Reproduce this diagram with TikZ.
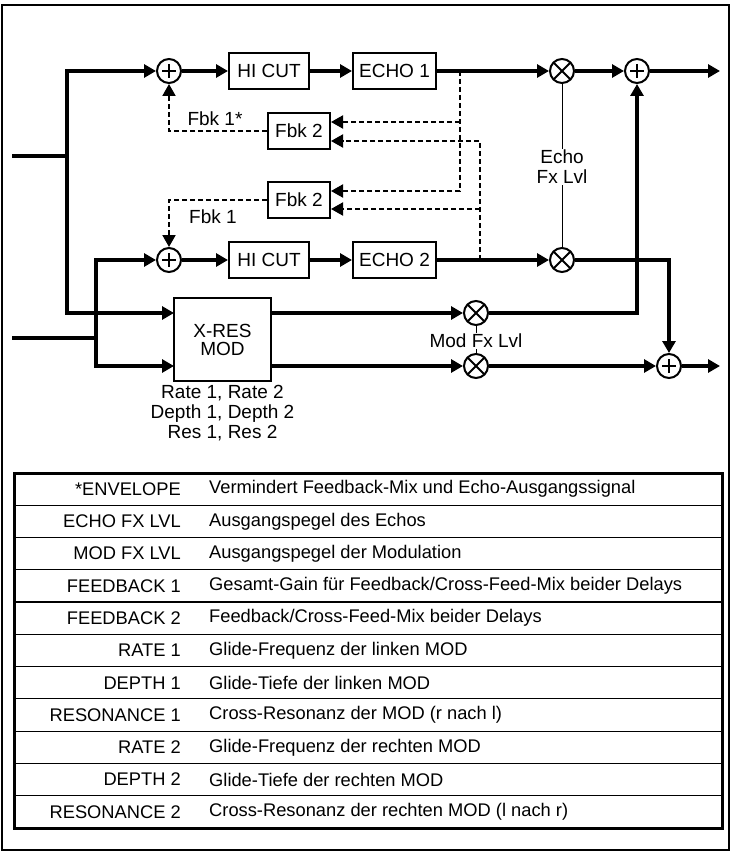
\documentclass[tikz,border=0pt]{standalone}
\usepackage{fontspec}
\setmainfont{Liberation Sans}
\usetikzlibrary{arrows.meta,positioning}
\tikzset{
	sig/.style={line width=4pt, -{Triangle[length=12pt, width=13pt]}},
	wire/.style={line width=4pt},
	fb/.style={line width=2pt, dash pattern=on 5pt off 3pt, -{Triangle[length=12pt, width=13pt]}},
	blk/.style={draw, line width=2pt, minimum height=36pt, inner sep=0pt, align=center, font=\fontsize{19}{20}\selectfont},
	sum/.style={circle, draw, line width=2pt, minimum size=24pt, inner sep=0pt,
		path picture={\draw[line width=2pt] ([yshift=7pt]path picture bounding box.center) -- ([yshift=-7pt]path picture bounding box.center)
			([xshift=-7pt]path picture bounding box.center) -- ([xshift=7pt]path picture bounding box.center);}},
	mul/.style={circle, draw, line width=2pt, minimum size=24pt, inner sep=0pt,
		path picture={\draw[line width=2pt] (path picture bounding box.north east) -- (path picture bounding box.south west)
			(path picture bounding box.north west) -- (path picture bounding box.south east);}},
	lbl/.style={font=\fontsize{19}{20}\selectfont, align=center, inner sep=1pt},
	cell/.style={font=\fontsize{18.3}{20}\selectfont, inner sep=1pt}
}
\begin{document}
\begin{tikzpicture}[x=1pt, y=-1pt]
	\useasboundingbox (0,0) rectangle (731,853);
	\draw[line width=2pt] (1.5,5) rectangle (729,850);

	% echo 1
	\node[sum] (sumA) at (169,71) {};
	\node[blk, minimum width=80pt] (hcA) at (269,71) {HI CUT};
	\node[blk, minimum width=83pt] (echoA) at (394.5,71) {ECHO 1};
	\node[mul] (mulA) at (562,71) {};
	\node[sum] (sumB) at (637,71) {};
	\coordinate (outA) at (720,71);

	% feedback
	\node[blk, minimum width=62pt] (fbU) at (299,131) {Fbk 2};
	\node[blk, minimum width=62pt] (fbL) at (299,200) {Fbk 2};

	% echo 2
	\node[sum] (sumC) at (169,260) {};
	\node[blk, minimum width=80pt] (hcB) at (269,260) {HI CUT};
	\node[blk, minimum width=83pt] (echoB) at (394.5,260) {ECHO 2};
	\node[mul] (mulB) at (562,260) {};

	% modulation
	\node[blk, minimum width=97pt, minimum height=83pt] (xres) at (222.5,339.5) {X-RES\\[-2pt]MOD};
	\node[mul] (mulC) at (476,313) {};
	\node[mul] (mulD) at (476,366) {};
	\node[sum] (sumD) at (669,366) {};
	\coordinate (outD) at (720,366);

	\coordinate (inA) at (12,156);
	\coordinate (brA) at (67,156);
	\coordinate (inB) at (12,338);
	\coordinate (brB) at (96,338);
	\coordinate (modA) at (174,313);
	\coordinate (modB) at (174,366);
	\coordinate (tapA) at (460,71);
	\coordinate (tapB) at (480,260);
	\coordinate (splA) at (460,122);
	\coordinate (splB) at (480,209);

	% labels
	\node[lbl, fill=white] (lvlE) at (562,167) {Echo\\Fx Lvl};
	\node[lbl, fill=white] (lvlM) at (476,341) {Mod Fx Lvl};
	\node[lbl] (fbkA) at (215,119) {Fbk 1*};
	\node[lbl] (fbkB) at (213,217) {Fbk 1};
	\node[lbl, below=2pt of xres] (par) {Rate 1, Rate 2\\Depth 1, Depth 2\\Res 1, Res 2};

	% thin level links
	\draw[line width=1pt] (mulA) -- (lvlE);
	\draw[line width=1pt] (lvlE) -- (mulB);
	\draw[line width=1pt] (mulC) -- (lvlM);
	\draw[line width=1pt] (lvlM) -- (mulD);

	% inputs
	\draw[wire] (inA) -- (brA);
	\draw[wire] (inB) -- (brB);
	\draw[sig] (brA) |- (sumA);
	\draw[sig] (brA) |- (modA);
	\draw[sig] (brB) |- (sumC);
	\draw[sig] (brB) |- (modB);

	% signal chain
	\draw[sig] (sumA) -- (hcA);
	\draw[sig] (hcA) -- (echoA);
	\draw[sig] (echoA) -- (mulA);
	\draw[sig] (mulA) -- (sumB);
	\draw[sig] (sumB) -- (outA);
	\draw[sig] (sumC) -- (hcB);
	\draw[sig] (hcB) -- (echoB);
	\draw[sig] (echoB) -- (mulB);
	\draw[sig] (mulB) -| (sumD);
	\draw[sig] (xres.east |- mulC) -- (mulC);
	\draw[sig] (xres.east |- mulD) -- (mulD);
	\draw[sig] (mulC) -| (sumB);
	\draw[sig] (mulD) -- (sumD);
	\draw[sig] (sumD) -- (outD);

	% feedback paths
	\draw[fb] (tapA) |- (fbL.east |- 0,191);
	\draw[fb] (splA) -- (fbU.east |- splA);
	\draw[fb] (tapB) |- (fbU.east |- 0,141);
	\draw[fb] (splB) -- (fbL.east |- splB);
	\draw[fb] (fbU) -| (sumA);
	\draw[fb] (fbL) -| (sumC);

	% parameter table
	\foreach \lab/\desc [count=\i] in {
		*ENVELOPE/Vermindert Feedback-Mix und Echo-Ausgangssignal,
		ECHO FX LVL/Ausgangspegel des Echos,
		MOD FX LVL/Ausgangspegel der Modulation,
		FEEDBACK 1/Gesamt-Gain für Feedback{/}Cross-Feed-Mix beider Delays,
		FEEDBACK 2/Feedback{/}Cross-Feed-Mix beider Delays,
		RATE 1/Glide-Frequenz der linken MOD,
		DEPTH 1/Glide-Tiefe der linken MOD,
		RESONANCE 1/Cross-Resonanz der MOD (r nach l),
		RATE 2/Glide-Frequenz der rechten MOD,
		DEPTH 2/Glide-Tiefe der rechten MOD,
		RESONANCE 2/Cross-Resonanz der rechten MOD (l nach r)} {
		\node[cell, anchor=east] (key\i) at (182,{473+32.27*(\i-0.5)}) {\lab};
		\node[cell, anchor=west] (txt\i) at (208,{473+32.27*(\i-0.5)}) {\desc};
		\ifnum\i>1 \draw[line width=1.2pt] (14,{473+32.27*(\i-1)}) -- (722,{473+32.27*(\i-1)}); \fi
	}
	\draw[line width=3pt] (14,473) rectangle (722,828);
\end{tikzpicture}
\end{document}
